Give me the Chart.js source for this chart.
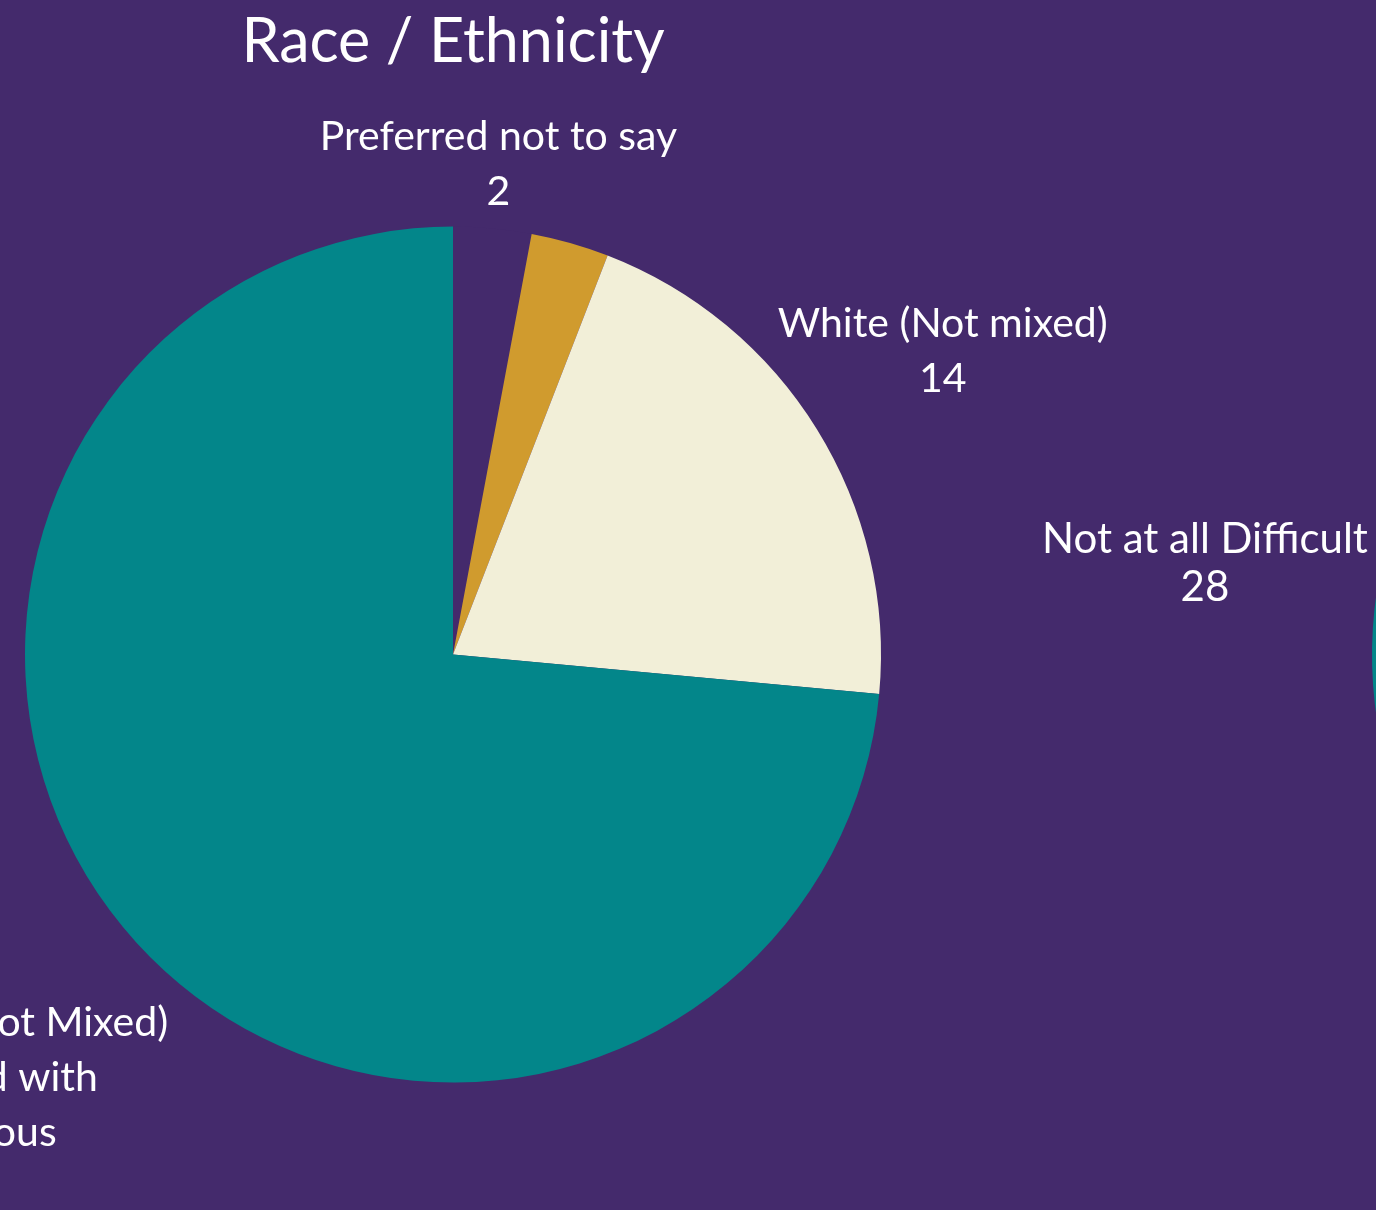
<!DOCTYPE html>
<html>
<head>
<meta charset="utf-8">
<title>Race / Ethnicity</title>
<script src="https://cdn.jsdelivr.net/npm/chart.js@4.4.1/dist/chart.umd.min.js"></script>
<style>
  html, body {
    margin: 0;
    padding: 0;
    width: 1376px;
    height: 1210px;
    overflow: hidden;
    background: #442a6c;
  }
  canvas { position: absolute; top: 0; }
  #race { left: 0; }
  #difficulty { left: 906px; }
</style>
</head>
<body>
<canvas id="race" width="1376" height="1210"></canvas>
<canvas id="difficulty" width="1800" height="1210"></canvas>
<script>
// survey answers
const raceLabels = [
  "Preferred not to say",
  "Two or More Races",
  "White (Not mixed)",
  ["Indigenous (Not Mixed)", "and Mixed with", "Indigenous"],
];
const raceCounts = [2, 2, 14, 50];
const raceShowLabel = [true, false, true, true];

const difficultyLabels = ["Very Difficult", "Somewhat Difficult", "Not at all Difficult"];
const difficultyCounts = [20, 14, 28];

const BG = "#442a6c";
const TEAL = "#03868a";
const GOLD = "#d09b2e";
const CREAM = "#f2efd8";

// draws "name / value" next to each slice, along the slice's middle angle
const sliceLabels = {
  id: "sliceLabels",
  afterDatasetsDraw(chart, args, opts) {
    const ctx = chart.ctx;
    const meta = chart.getDatasetMeta(0);
    const values = chart.data.datasets[0].data;
    ctx.save();
    ctx.fillStyle = "#ffffff";
    ctx.font = opts.font;
    ctx.textAlign = "center";
    ctx.textBaseline = "middle";
    meta.data.forEach((arc, i) => {
      if (opts.show && !opts.show[i]) return;
      const p = arc.getProps(["x", "y", "startAngle", "endAngle"], true);
      const mid = (p.startAngle + p.endAngle) / 2;
      const d = opts.distance[i];
      const cx = p.x + Math.cos(mid) * d;
      const cy = p.y + Math.sin(mid) * d;
      const lines = [].concat(chart.data.labels[i], String(values[i]));
      const top = cy - ((lines.length - 1) * opts.lineHeight) / 2;
      lines.forEach((t, k) => ctx.fillText(t, cx, top + k * opts.lineHeight));
    });
    ctx.restore();
  },
};

function pieOptions(extra) {
  return Object.assign(
    {
      responsive: false,
      animation: false,
      events: [],
      elements: { arc: { borderWidth: 0, hoverOffset: 0 } },
    },
    extra
  );
}

function drawCharts() {
  new Chart(document.getElementById("race"), {
    type: "pie",
    data: {
      labels: raceLabels,
      datasets: [
        {
          data: raceCounts,
          backgroundColor: [BG, GOLD, CREAM, TEAL],
          borderWidth: 0,
          hoverOffset: 0,
        },
      ],
    },
    options: pieOptions({
      layout: { padding: { left: 25, right: 495, top: 0, bottom: 127 } },
      plugins: {
        legend: { display: false },
        tooltip: { enabled: false },
        title: {
          display: true,
          text: "Race / Ethnicity",
          color: "#ffffff",
          font: { family: "Lato", size: 61, weight: "normal" },
          padding: { top: 6, bottom: 147 },
        },
        sliceLabels: {
          font: "41px Lato",
          lineHeight: 55,
          show: raceShowLabel,
          distance: [492, 0, 576, 669],
        },
      },
    }),
    plugins: [sliceLabels],
  });

  new Chart(document.getElementById("difficulty"), {
    type: "pie",
    data: {
      labels: difficultyLabels,
      datasets: [
        {
          data: difficultyCounts,
          backgroundColor: [GOLD, CREAM, TEAL],
          borderWidth: 0,
          hoverOffset: 0,
        },
      ],
    },
    options: pieOptions({
      layout: { padding: { left: 466, right: 478, top: 227, bottom: 127 } },
      plugins: {
        legend: { display: false },
        tooltip: { enabled: false },
        sliceLabels: {
          font: "42px Lato",
          lineHeight: 48,
          distance: [600, 600, 602],
        },
      },
    }),
    plugins: [sliceLabels],
  });
}

document.fonts.load("41px Lato").then(drawCharts, drawCharts);
</script>
</body>
</html>
